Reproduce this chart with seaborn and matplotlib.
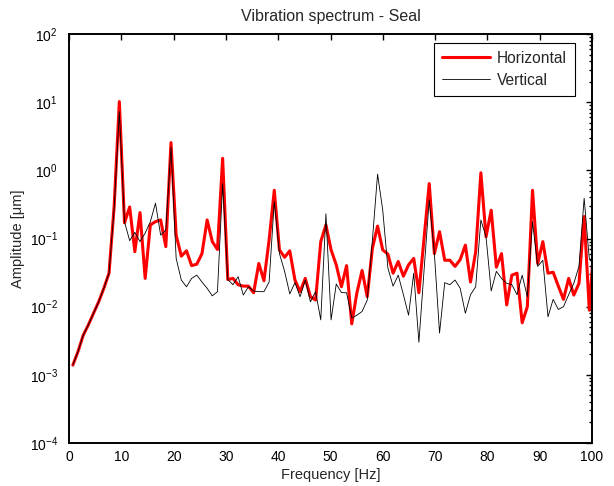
import numpy as np
import pandas as pd
import matplotlib
matplotlib.use("Agg")
import matplotlib.pyplot as plt
import seaborn as sns
from matplotlib.ticker import LogLocator

# FFT bin index and bin spacing (Hz)
bin_index = np.arange(1, 103)
bin_hz = 0.9875
bin_offset = -0.25

horizontal = [
    0.00139, 0.0022, 0.0038, 0.0054, 0.0080, 0.0118, 0.0186, 0.031, 0.30, 10.2,
    0.17, 0.29, 0.064, 0.24, 0.026, 0.158, 0.177, 0.187, 0.076, 2.55,
    0.112, 0.055, 0.066, 0.040, 0.042, 0.060, 0.187, 0.090, 0.069, 1.5,
    0.025, 0.026, 0.021, 0.020, 0.020, 0.016, 0.043, 0.024, 0.095, 0.51,
    0.068, 0.053, 0.066, 0.0246, 0.0166, 0.026, 0.014, 0.0125, 0.090, 0.158,
    0.068, 0.041, 0.0196, 0.040, 0.0056, 0.016, 0.034, 0.014, 0.072, 0.152,
    0.068, 0.059, 0.031, 0.046, 0.028, 0.041, 0.051, 0.016, 0.10, 0.64,
    0.060, 0.126, 0.048, 0.048, 0.039, 0.049, 0.080, 0.023, 0.064, 0.92,
    0.106, 0.26, 0.038, 0.060, 0.0106, 0.029, 0.031, 0.0058, 0.010, 0.51,
    0.043, 0.090, 0.031, 0.032, 0.020, 0.0128, 0.026, 0.0148, 0.022, 0.21,
    0.0089, 0.107,
]

vertical = [
    0.00139, 0.0022, 0.0038, 0.0054, 0.0080, 0.0118, 0.0186, 0.031, 0.28, 7.3,
    0.176, 0.093, 0.123, 0.090, 0.12, 0.176, 0.33, 0.112, 0.133, 2.2,
    0.051, 0.0246, 0.0196, 0.026, 0.029, 0.023, 0.0186, 0.0144, 0.0166, 0.64,
    0.025, 0.021, 0.0275, 0.0148, 0.0196, 0.017, 0.0166, 0.0166, 0.023, 0.35,
    0.060, 0.033, 0.0154, 0.0225, 0.014, 0.0246, 0.0118, 0.0166, 0.0064, 0.23,
    0.0064, 0.0215, 0.0161, 0.016, 0.0068, 0.0075, 0.0085, 0.0125, 0.095, 0.88,
    0.26, 0.037, 0.020, 0.029, 0.015, 0.0075, 0.031, 0.0030, 0.034, 0.37,
    0.060, 0.0041, 0.0225, 0.021, 0.0246, 0.0186, 0.008, 0.015, 0.0196, 0.187,
    0.106, 0.017, 0.033, 0.026, 0.022, 0.021, 0.015, 0.029, 0.014, 0.177,
    0.039, 0.048, 0.0071, 0.0128, 0.0091, 0.010, 0.015, 0.022, 0.039, 0.39,
    0.05, 0.04,
]

x_ticks = [0, 10, 20, 30, 40, 50, 60, 70, 80, 90, 100]

freq = bin_index * bin_hz + bin_offset
df = pd.DataFrame({
    "Frequency": np.concatenate([freq, freq]),
    "Amplitude": np.concatenate([horizontal, vertical]),
    "Direction": ["Horizontal"] * len(freq) + ["Vertical"] * len(freq),
})

sns.set_style("white")
plt.rcParams["font.family"] = ["Liberation Sans", "DejaVu Sans"]

fig = plt.figure(figsize=(6.14, 4.86), dpi=100)
ax = fig.add_axes([69 / 614, 1 - 443 / 486, (592 - 69) / 614, (443 - 34) / 486])

sns.lineplot(data=df[df.Direction == "Horizontal"], x="Frequency", y="Amplitude",
             color="#ff0000", linewidth=2.2, ax=ax, label="Horizontal")
sns.lineplot(data=df[df.Direction == "Vertical"], x="Frequency", y="Amplitude",
             color="black", linewidth=0.6, ax=ax, label="Vertical")

ax.set_yscale("log")
ax.set_xlim(0, 100)
ax.set_ylim(1e-4, 1e2)
ax.set_xticks(x_ticks)
ax.yaxis.set_major_locator(LogLocator(base=10, numticks=10))
ax.yaxis.set_minor_locator(LogLocator(base=10, subs=np.arange(2, 10), numticks=100))

ax.tick_params(axis="both", which="both", direction="in", top=True, right=True,
               labelsize=10, colors="black", width=1.0)
ax.tick_params(axis="both", which="major", length=4)
ax.tick_params(axis="y", which="minor", length=2.2)
ax.tick_params(axis="y", which="major", pad=8)
ax.tick_params(axis="x", which="major", pad=5)
for s in ax.spines.values():
    s.set_linewidth(1.4)
    s.set_color("black")

ax.set_xlabel("Frequency [Hz]", fontsize=10.5, labelpad=3)
ax.set_ylabel("Amplitude [μm]", fontsize=10.5, labelpad=3)
ax.set_title("Vibration spectrum - Seal", fontsize=11.5, pad=9)

leg = ax.legend(loc="upper right", bbox_to_anchor=((575 - 69) / 523, 1 - (43 - 34) / 409),
                borderaxespad=0, fontsize=11.2, frameon=True, fancybox=False,
                edgecolor="black", framealpha=1, handlelength=3.1, handletextpad=0.45,
                borderpad=0.5, labelspacing=0.45)
leg.get_frame().set_linewidth(0.8)

fig.savefig("out.png", dpi=100)
